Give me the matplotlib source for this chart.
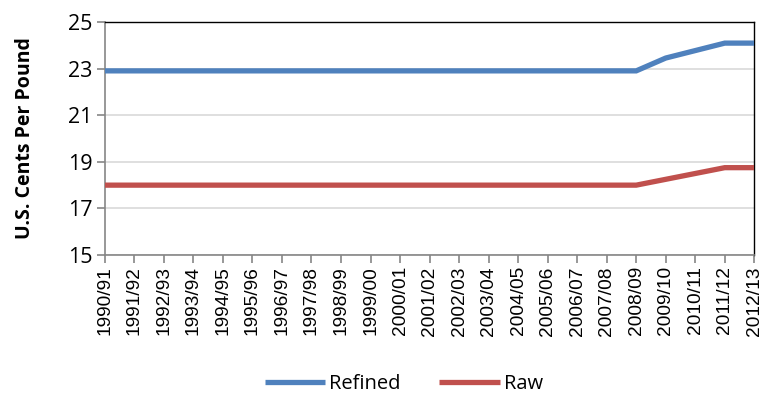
import matplotlib
import matplotlib.pyplot as plt

matplotlib.use("Agg")

# Sugar loan rates, U.S. cents per pound
years = [
    "1990/91", "1991/92", "1992/93", "1993/94", "1994/95", "1995/96",
    "1996/97", "1997/98", "1998/99", "1999/00", "2000/01", "2001/02",
    "2002/03", "2003/04", "2004/05", "2005/06", "2006/07", "2007/08",
    "2008/09", "2009/10", "2010/11", "2011/12", "2012/13",
]
refined = [22.9] * 19 + [23.45, 23.77, 24.09, 24.09]
raw = [18.0] * 19 + [18.25, 18.5, 18.75, 18.75]

BLUE = "#4F81BD"
RED = "#C0504D"
GRID = "#D9D9D9"
AXIS = "#868686"

fig = plt.figure(figsize=(7.65, 3.98), dpi=100)
ax = fig.add_axes([0.137, 0.359, 0.849, 0.586])

x = list(range(len(years)))
ax.plot(x, refined, color=BLUE, linewidth=3.8, label="Refined", zorder=3,
        solid_capstyle="butt", solid_joinstyle="miter")
ax.plot(x, raw, color=RED, linewidth=3.8, label="Raw", zorder=3,
        solid_capstyle="butt", solid_joinstyle="miter")

ax.set_xlim(0, len(years) - 1)
ax.set_ylim(15, 25)
ax.set_yticks([15, 17, 19, 21, 23, 25])
ax.set_xticks(x)
ax.set_xticklabels(years, rotation=90, fontsize=13.8, family="Liberation Sans")
for lbl in ax.get_yticklabels():
    lbl.set_fontsize(15.5)
    lbl.set_family("Open Sans")

ax.yaxis.grid(True, color=GRID, linewidth=1.2, zorder=1)
ax.set_axisbelow(True)

for side in ("left", "bottom"):
    ax.spines[side].set_color(AXIS)
    ax.spines[side].set_linewidth(1.2)
for side in ("top", "right"):
    ax.spines[side].set_color("black")
    ax.spines[side].set_linewidth(1.0)
ax.tick_params(axis="both", direction="out", length=6, width=1.2,
               color=AXIS, labelcolor="black")
ax.tick_params(axis="x", pad=2)
ax.tick_params(axis="y", pad=3)

ax.set_ylabel("U.S. Cents Per Pound", fontsize=14, fontweight="bold",
              family="Open Sans")
ax.yaxis.set_label_coords(-0.108, 0.5)

fig.legend(loc="lower center", bbox_to_anchor=(0.528, -0.035), ncol=2,
           frameon=False, prop={"family": "Open Sans", "size": 14.5},
           handlelength=3.0, handletextpad=0.2, columnspacing=1.9)

fig.savefig("out.png", dpi=100)
